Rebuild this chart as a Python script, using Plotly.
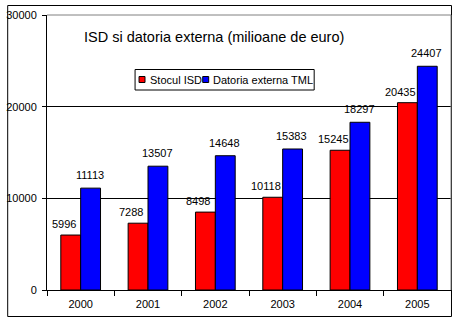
import plotly.graph_objects as go

years = ["2000", "2001", "2002", "2003", "2004", "2005"]
stocul_isd = [5996, 7288, 8498, 10118, 15245, 20435]
datoria_tml = [11113, 13507, 14648, 15383, 18297, 24407]
series_names = ["Stocul ISD", "Datoria externa TML"]
series_colors = ["#FF0000", "#0000FF"]
y_ticks = [0, 10000, 20000, 30000]
title_text = "ISD si datoria externa (milioane de euro)"

W, H = 457, 322
L, R, T, B = 45, 6, 15, 32
pw, ph = W - L - R, H - T - B

def px_x(x):
    return (x - L) / pw

def px_y(y):
    return (H - B - y) / ph

font = "Liberation Sans, Arial, sans-serif"

fig = go.Figure()
for name, vals, col in zip(series_names, [stocul_isd, datoria_tml], series_colors):
    fig.add_trace(go.Bar(
        x=years, y=vals, name=name,
        marker=dict(color=col, line=dict(color="black", width=1)),
        showlegend=False,
    ))

shapes = [
    # outer chart border
    dict(type="rect", xref="paper", yref="paper",
         x0=px_x(5.5), x1=px_x(451.5), y0=px_y(316.5), y1=px_y(5.5),
         line=dict(color="black", width=1), layer="below"),
    # plot area top & right (gray)
    dict(type="line", xref="paper", yref="paper", x0=0, x1=1, y0=1, y1=1,
         line=dict(color="#808080", width=1), layer="above"),
    dict(type="line", xref="paper", yref="paper", x0=1, x1=1, y0=0, y1=1,
         line=dict(color="#808080", width=1), layer="above"),
    # legend box
    dict(type="rect", xref="paper", yref="paper",
         x0=px_x(133.5), x1=px_x(313.5), y0=px_y(90), y1=px_y(69.5),
         line=dict(color="black", width=1), fillcolor="white", layer="above"),
]
annotations = [
    dict(text=title_text, xref="paper", yref="paper", x=px_x(80), y=px_y(37),
         xanchor="left", yanchor="middle", showarrow=False,
         font=dict(family=font, size=14.5, color="black")),
]
legend_items = [(137, 146), (201, 210)]
for (sx, tx), name, col in zip(legend_items, series_names, series_colors):
    shapes.append(dict(type="rect", xref="paper", yref="paper",
                       x0=px_x(sx + 0.5), x1=px_x(sx + 6.5), y0=px_y(82.5), y1=px_y(76.5),
                       line=dict(color="black", width=1), fillcolor=col, layer="above"))
    annotations.append(dict(text=name, xref="paper", yref="paper", x=px_x(tx), y=px_y(80),
                            xanchor="left", yanchor="middle", showarrow=False,
                            font=dict(family=font, size=11, color="black")))

# data labels (value labels above bars); x given as category index
for vals, xs, ys in [(stocul_isd, -17, 3), (datoria_tml, 9, 5)]:
    for i, v in enumerate(vals):
        annotations.append(dict(text=str(v), x=i, y=v, xref="x", yref="y",
                                xanchor="center", yanchor="bottom", showarrow=False,
                                xshift=xs, yshift=ys,
                                font=dict(family=font, size=11, color="black")))

fig.update_layout(
    width=W, height=H,
    margin=dict(l=L, r=R, t=T, b=B, pad=0),
    paper_bgcolor="white", plot_bgcolor="white",
    barmode="group", bargap=0.41, bargroupgap=0,
    showlegend=False,
    shapes=shapes, annotations=annotations,
    xaxis=dict(type="category", range=[-0.5, len(years) - 0.5],
               tickson="boundaries", ticks="outside", ticklen=5,
               tickcolor="black", showline=True, linecolor="black", linewidth=1,
               showgrid=False, ticklabelstandoff=4,
               tickfont=dict(family=font, size=11, color="black")),
    yaxis=dict(range=[0, 30000], tickvals=y_ticks, ticktext=[str(v) for v in y_ticks],
               ticks="outside", ticklen=4,
               tickcolor="black", showline=True, linecolor="black", linewidth=1,
               showgrid=True, gridcolor="black", gridwidth=1, zeroline=False,
               ticklabelstandoff=3,
               tickfont=dict(family=font, size=11, color="black")),
    font=dict(family=font),
)

fig.write_html("out.html")
